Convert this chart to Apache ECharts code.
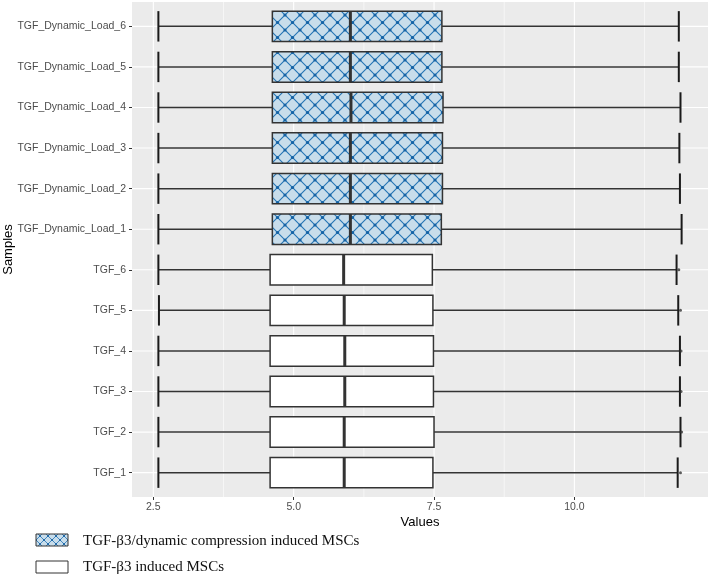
<!DOCTYPE html>
<html><head><meta charset="utf-8">
<script src="https://cdn.jsdelivr.net/npm/echarts@6/dist/echarts.min.js"></script>
<style>html,body{margin:0;padding:0;background:#fff}#c{width:709px;height:581px}</style>
</head><body><div id="c"></div>
<script>
// ---- data ----
const categories = ['TGF_1','TGF_2','TGF_3','TGF_4','TGF_5','TGF_6',
  'TGF_Dynamic_Load_1','TGF_Dynamic_Load_2','TGF_Dynamic_Load_3','TGF_Dynamic_Load_4','TGF_Dynamic_Load_5','TGF_Dynamic_Load_6'];
// TGF-β3 induced (TGF_1..TGF_6)
const tgfLow    = [2.59, 2.59, 2.59, 2.59, 2.60, 2.59];
const tgfQ1     = [4.58, 4.58, 4.58, 4.58, 4.58, 4.58];
const tgfMedian = [5.90, 5.90, 5.91, 5.91, 5.90, 5.89];
const tgfQ3     = [7.48, 7.50, 7.49, 7.49, 7.48, 7.47];
const tgfHigh   = [11.84, 11.89, 11.88, 11.88, 11.85, 11.82];
const tgfOutlier= [11.89, 11.91, 11.90, 11.90, 11.89, 11.86];
// TGF-β3/dynamic compression (Load_1..Load_6)
const dynLow    = [2.59, 2.59, 2.59, 2.59, 2.59, 2.59];
const dynQ1     = [4.62, 4.62, 4.62, 4.62, 4.62, 4.62];
const dynMedian = [6.01, 6.01, 6.01, 6.02, 6.01, 6.01];
const dynQ3     = [7.63, 7.65, 7.65, 7.66, 7.64, 7.64];
const dynHigh   = [11.91, 11.88, 11.87, 11.89, 11.86, 11.86];
const xMajorTicks = [2.5, 5.0, 7.5, 10.0];
const xMinorTicks = [3.75, 6.25, 8.75, 11.25];
const legendLabels = ['TGF-β3/dynamic compression induced MSCs', 'TGF-β3 induced MSCs'];
const xTitle = 'Values', yTitle = 'Samples';

// ---- helpers ----
function makePattern(size, r, lw) {
  const c = document.createElement('canvas'); c.width = size; c.height = size;
  const g = c.getContext('2d');
  g.fillStyle = '#c8ddeb'; g.fillRect(0, 0, size, size);
  g.strokeStyle = '#2474b5'; g.lineWidth = lw;
  g.beginPath();
  g.moveTo(-1, -1); g.lineTo(size + 1, size + 1);
  g.moveTo(size + 1, -1); g.lineTo(-1, size + 1);
  g.stroke();
  g.fillStyle = '#1663a5';
  [[0,0],[size,0],[0,size],[size,size],[size/2,size/2]].forEach(p => {
    g.beginPath(); g.arc(p[0], p[1], r, 0, Math.PI * 2); g.fill();
  });
  return c;
}
const boxPattern = { image: makePattern(15, 1.6, 1.1), repeat: 'repeat' };
const legendPattern = { image: makePattern(8, 1.0, 0.8), repeat: 'repeat' };

const stroke = '#333333';
function renderBox(fill) {
  return function (params, api) {
    const y = api.value(0);
    const lo = api.coord([api.value(1), y]);
    const b1 = api.coord([api.value(2), y]);
    const md = api.coord([api.value(3), y]);
    const b3 = api.coord([api.value(4), y]);
    const hi = api.coord([api.value(5), y]);
    const h = api.size([0, 1])[1] * 0.375;
    const cy = lo[1];
    return { type: 'group', children: [
      { type: 'line', shape: { x1: lo[0], y1: cy, x2: b1[0], y2: cy }, style: { stroke, lineWidth: 1.5 } },
      { type: 'line', shape: { x1: b3[0], y1: cy, x2: hi[0], y2: cy }, style: { stroke, lineWidth: 1.5 } },
      { type: 'line', shape: { x1: lo[0], y1: cy - h, x2: lo[0], y2: cy + h }, style: { stroke: '#1a1a1a', lineWidth: 2 } },
      { type: 'line', shape: { x1: hi[0], y1: cy - h, x2: hi[0], y2: cy + h }, style: { stroke: '#1a1a1a', lineWidth: 2 } },
      { type: 'rect', shape: { x: b1[0], y: cy - h, width: b3[0] - b1[0], height: 2 * h }, style: { fill, stroke, lineWidth: 1.5 } },
      { type: 'line', shape: { x1: md[0], y1: cy - h, x2: md[0], y2: cy + h }, style: { stroke, lineWidth: 3 } }
    ]};
  };
}

const tgfData = tgfLow.map((v, i) => [i + 1, v, tgfQ1[i], tgfMedian[i], tgfQ3[i], tgfHigh[i]]);
const dynData = dynLow.map((v, i) => [i + 7, v, dynQ1[i], dynMedian[i], dynQ3[i], dynHigh[i]]);
const outData = tgfOutlier.map((v, i) => [v, i + 1]);
const catPos = categories.map((c, i) => i + 1);
const vLines = xMajorTicks.map(v => [v, 1]).concat(xMinorTicks.map(v => [v, 0]));
const hLines = catPos.map(p => [p]);

const chart = echarts.init(document.getElementById('c'), null, { renderer: 'canvas' });
const font = 'Liberation Sans';
chart.setOption({
  animation: false,
  textStyle: { fontFamily: font },
  grid: { left: 132, right: 1, top: 2, bottom: 84, show: true, backgroundColor: '#EBEBEB', borderWidth: 0,
          containLabel: false, outerBoundsMode: 'none' },
  xAxis: {
    type: 'value', min: 2.12, max: 12.38,
    axisLine: { show: false },
    axisTick: { show: true, length: 3, customValues: xMajorTicks, lineStyle: { color: '#333', width: 1 } },
    axisLabel: { customValues: xMajorTicks, formatter: v => v.toFixed(1), color: '#4D4D4D', fontSize: 10.5, margin: 5, fontFamily: font },
    splitLine: { show: false },
    name: xTitle, nameLocation: 'middle', nameGap: 19, nameMoveOverlap: false,
    nameTextStyle: { color: '#000', fontSize: 13, fontFamily: font }
  },
  yAxis: {
    type: 'value', min: 0.4, max: 12.6,
    axisLine: { show: false },
    axisTick: { show: true, length: 3, customValues: catPos, lineStyle: { color: '#333', width: 1 } },
    axisLabel: { customValues: catPos, formatter: v => categories[Math.round(v) - 1] || '', color: '#4D4D4D', fontSize: 10.5, margin: 6, fontFamily: font },
    splitLine: { show: false },
    name: yTitle, nameLocation: 'middle', nameGap: 117, nameRotate: 90, nameMoveOverlap: false,
    nameTextStyle: { color: '#000', fontSize: 13, fontFamily: font }
  },
  series: [
    { type: 'custom', name: 'vgrid', silent: true, z: 1, data: vLines, encode: { x: 0 },
      renderItem: (params, api) => {
        const p = api.coord([api.value(0), 1]);
        const cs = params.coordSys;
        return { type: 'line', shape: { x1: p[0], y1: cs.y, x2: p[0], y2: cs.y + cs.height },
          style: { stroke: '#FFFFFF', lineWidth: api.value(1) ? 1.1 : 0.55 } };
      } },
    { type: 'custom', name: 'hgrid', silent: true, z: 1, data: hLines, encode: { y: 0 },
      renderItem: (params, api) => {
        const p = api.coord([5, api.value(0)]);
        const cs = params.coordSys;
        return { type: 'line', shape: { x1: cs.x, y1: p[1], x2: cs.x + cs.width, y2: p[1] },
          style: { stroke: '#FFFFFF', lineWidth: 1.1 } };
      } },
    { type: 'custom', name: legendLabels[1], z: 3, data: tgfData, encode: { x: [1,2,3,4,5], y: 0 },
      renderItem: renderBox('#FFFFFF') },
    { type: 'custom', name: legendLabels[0], z: 3, data: dynData, encode: { x: [1,2,3,4,5], y: 0 },
      renderItem: renderBox(boxPattern) },
    { type: 'scatter', name: 'outliers', z: 4, data: outData, symbolSize: 3, itemStyle: { color: '#333' } }
  ],
  graphic: [
    { type: 'rect', shape: { x: 36, y: 534, width: 32, height: 12 }, style: { fill: legendPattern, stroke: '#333', lineWidth: 1 } },
    { type: 'text', x: 83, y: 541, style: { text: legendLabels[0], fontFamily: 'Liberation Serif', fontSize: 15, fill: '#111', verticalAlign: 'middle' } },
    { type: 'rect', shape: { x: 36, y: 561, width: 32, height: 12 }, style: { fill: '#FFFFFF', stroke: '#333', lineWidth: 1 } },
    { type: 'text', x: 83, y: 567, style: { text: legendLabels[1], fontFamily: 'Liberation Serif', fontSize: 15, fill: '#111', verticalAlign: 'middle' } }
  ]
});
</script>
</body></html>
